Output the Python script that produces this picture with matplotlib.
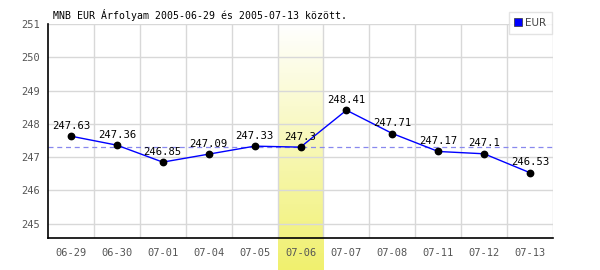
import numpy as np
import matplotlib
matplotlib.use("Agg")
import matplotlib.pyplot as plt
from matplotlib.lines import Line2D

dates = ["06-29", "06-30", "07-01", "07-04", "07-05", "07-06",
         "07-07", "07-08", "07-11", "07-12", "07-13"]
rates = [247.63, 247.36, 246.85, 247.09, 247.33, 247.3,
         248.41, 247.71, 247.17, 247.1, 246.53]
highlight = "07-06"
title = "MNB EUR Árfolyam 2005-06-29 és 2005-07-13 között."

mono = "DejaVu Sans Mono"
fig = plt.figure(figsize=(6, 2.7), dpi=100)
ax = fig.add_axes([0.08, 0.1185, 0.8417, 0.7926])

x = np.arange(len(dates))
ymin, ymax = 244.57, 251
ax.set_xlim(-0.5, len(dates) - 0.5)
ax.set_ylim(ymin, ymax)

# grid
ax.set_xticks(np.arange(len(dates)) + 0.5, minor=True)
ax.set_yticks(range(245, 252))
ax.grid(True, which="minor", axis="x", color="#d8d8d8", lw=1)
ax.grid(True, which="major", axis="y", color="#d8d8d8", lw=1)
ax.set_axisbelow(True)

# highlighted day, gradient white -> yellow, running below the axis
hi = dates.index(highlight)
grad = np.linspace(0, 1, 256).reshape(-1, 1)
top = np.array([1.0, 1.0, 1.0])
bot = np.array([240, 240, 110]) / 255
img = top + (bot - top) * grad[..., None] * np.ones((1, 1, 3))
img = img.reshape(256, 1, 3)
low = ymin - 32 / 33.3
ax.imshow(img, extent=[hi - 0.5, hi + 0.5, low, ymax], aspect="auto",
          origin="upper", zorder=0.5, clip_on=False)

# average line
avg = np.mean(rates)
ax.axhline(avg, color="#8888ee", lw=0.9, ls=(0, (4, 3)), zorder=1)

ax.plot(x, rates, color="blue", lw=1, zorder=2)
ax.plot(x, rates, "o", color="black", ms=4.6, zorder=3)

for i, v in enumerate(rates):
    lbl = f"{v:.2f}".rstrip("0").rstrip(".")
    ax.annotate(lbl, (i, v), xytext=(0, 4), textcoords="offset points",
                ha="center", va="bottom", fontsize=7.6, family=mono,
                color="black", zorder=4)

ax.set_xticks(x)
ax.set_xticklabels(dates)
ax.tick_params(axis="both", which="both", length=0, labelsize=7.5,
               labelcolor="#555555")
for t in ax.get_xticklabels() + ax.get_yticklabels():
    t.set_family(mono)
ax.tick_params(axis="x", pad=7)
ax.tick_params(axis="y", pad=6)

for s in ["top", "right"]:
    ax.spines[s].set_visible(False)
for s in ["left", "bottom"]:
    ax.spines[s].set_color("black")
    ax.spines[s].set_linewidth(1.2)

fig.text(0.089, 0.944, title, fontsize=7.1, family=mono, va="center")

handle = Line2D([], [], marker="s", color="blue", ls="none", ms=5.5,
                markeredgecolor="#333333", markeredgewidth=0.5)
leg = fig.legend([handle], ["EUR"], loc="upper right",
                 bbox_to_anchor=(0.92, 0.956), fontsize=7.5, frameon=True,
                 fancybox=False, handlelength=0.6, handletextpad=0.3,
                 borderpad=0.6, borderaxespad=0)
leg.get_frame().set_edgecolor("#dddddd")
leg.get_frame().set_linewidth(1)
for t in leg.get_texts():
    t.set_color("#444444")

fig.savefig("out.png", dpi=100)
